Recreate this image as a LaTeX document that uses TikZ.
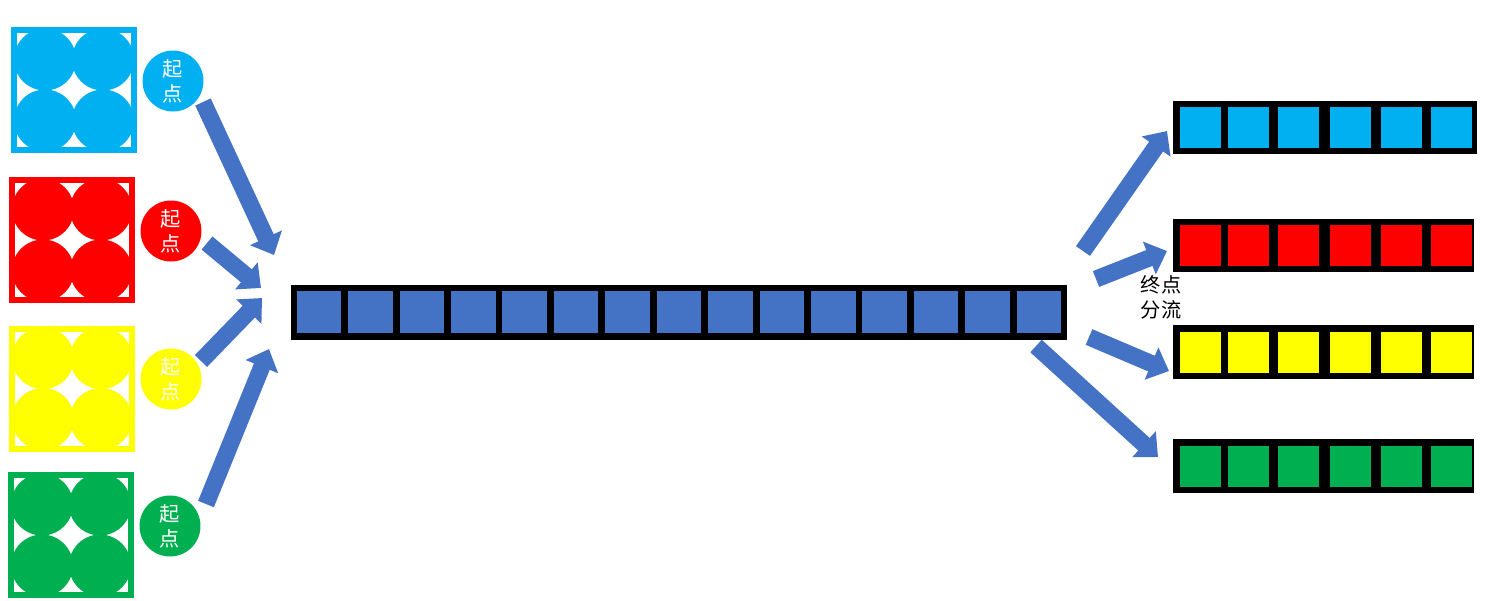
\documentclass[tikz,border=0pt]{standalone}
\usepackage{fontspec}
\setmainfont{Noto Sans CJK SC}
\usetikzlibrary{arrows.meta}

\definecolor{arrowblue}{RGB}{68,114,196}
\definecolor{cyanish}{RGB}{0,176,240}
\definecolor{greenish}{RGB}{0,176,80}
\definecolor{yellowish}{RGB}{255,255,0}
\definecolor{redish}{RGB}{255,0,0}
\tikzset{
    bigbox/.style={draw=#1, line width=0.12cm, minimum size=2.4cm, inner sep=0pt},
    dot/.style={circle, fill=#1, minimum size=1.24cm, inner sep=0pt},
    startdot/.style={circle, fill=#1, minimum size=1.22cm, inner sep=0pt, text=white, align=center,
        font=\fontsize{11.5pt}{14.2pt}\selectfont},
    barbox/.style={fill=black, minimum height=1.07cm, inner sep=0pt},
    cell/.style={fill=#1, minimum width=0.82cm, minimum height=0.82cm, inner sep=0pt},
    bigarrow/.style={draw=arrowblue, line width=0.34cm,
        -{Triangle[length=0.38cm, width=0.68cm, fill=arrowblue]}}
}

\begin{document}
\begin{tikzpicture}[x=0.02cm, y=-0.02cm]
\useasboundingbox (0,0) rectangle (1504,600);

% Start squares
\foreach \name/\col/\x/\y/\dx/\dy in {a/cyanish/74/90/173/81, b/redish/72/240/171/231, c/yellowish/72/388.5/171/379, d/greenish/71/535/170/526} {
    \foreach \i/\ox/\oy in {1/-29/-30.5, 2/29/-30.5, 3/-29/30.5, 4/29/30.5} {
        \node[dot=\col] (dot\name\i) at (\x+\ox, \y+\oy) {};
    }
    \node[bigbox=\col] (box\name) at (\x, \y) {};
    \node[startdot=\col] (start\name) at (\dx, \dy) {起\\点};
}

% Middle bar
\node[barbox, minimum width=15.52cm, minimum height=1.1cm] (barmid) at (679, 312) {};
\foreach \i in {0,...,14} {
    \node[cell=arrowblue, minimum width=0.89cm, minimum height=0.84cm] (mid\i) at (319+51.43*\i, 312) {};
}

% End bars
\foreach \name/\col/\bx/\bw/\y in {e/cyanish/1325/6.08cm/127.5, f/redish/1323.5/6.02cm/245.5, g/yellowish/1323.5/6.02cm/352, h/greenish/1323.5/6.02cm/466} {
    \node[barbox, minimum width=\bw] (bar\name) at (\bx, \y) {};
    \foreach \i/\x in {1/1200, 2/1248.5, 3/1298, 4/1350, 5/1401, 6/1451} {
        \node[cell=\col] (cell\name\i) at (\x, \y) {};
    }
}

\node[align=center, font=\fontsize{11.5pt}{14.2pt}\selectfont, text=black] (endlabel) at (1161, 297.5) {终点\\分流};

% Arrow ends
\coordinate (t1) at (203,102);
\coordinate (h1) at (274,255);
\coordinate (t2) at (207,243);
\coordinate (h2) at (261,288);
\coordinate (t3) at (201,361);
\coordinate (h3) at (262,298);
\coordinate (t4) at (206,504);
\coordinate (h4) at (269,349);
\coordinate (t5) at (1083,251);
\coordinate (h5) at (1167,131);
\coordinate (t6) at (1096,279);
\coordinate (h6) at (1167,251);
\coordinate (t7) at (1089,337);
\coordinate (h7) at (1169,371);
\coordinate (t8) at (1036,346);
\coordinate (h8) at (1158,457);

% Edges
\foreach \i in {1,...,8} {
    \draw[bigarrow] (t\i) -- (h\i);
}

\end{tikzpicture}
\end{document}
